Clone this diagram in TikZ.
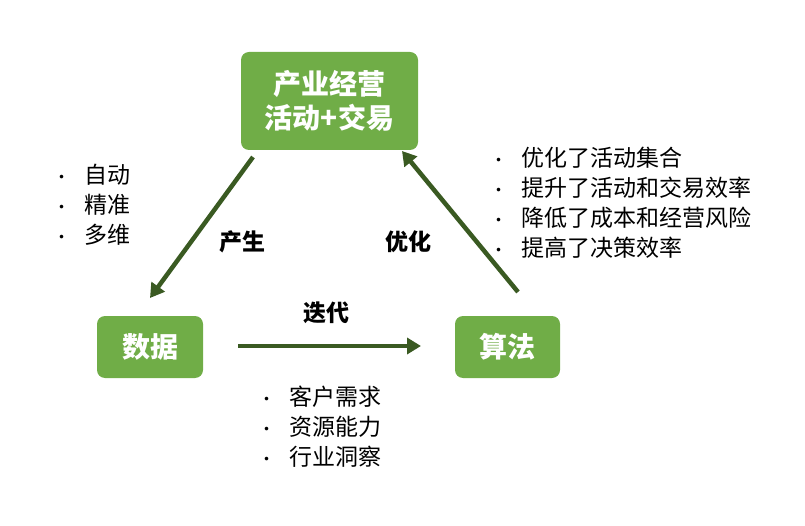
\documentclass[tikz,border=0pt]{standalone}
\usepackage{fontspec}
\setmainfont{Noto Sans CJK SC}
\usetikzlibrary{arrows.meta}
\definecolor{boxg}{HTML}{70AD47}
\definecolor{arrg}{HTML}{3A5A22}
\tikzset{
  gbox/.style={fill=boxg,rounded corners=8pt,text=white,font=\bfseries\fontsize{28}{34}\selectfont,align=center,inner sep=0pt},
  garrow/.style={draw=arrg,line width=4.5pt,-{Triangle[length=14pt,width=16pt]}},
  lbl/.style={font=\bfseries\fontsize{23}{26}\selectfont,text=black},
  blist/.style={font=\fontsize{23}{30}\selectfont,align=left,anchor=west,inner sep=0pt}
}
\newcommand{\bul}{{\fontsize{17}{20}\selectfont•}\hspace{14pt}}
\begin{document}
\begin{tikzpicture}[x=1pt,y=-1pt]
\useasboundingbox (0,0) rectangle (805,526);
\node[gbox,minimum width=177pt,minimum height=98pt] (top) at (329.5,101) {产业经营\\活动+交易};
\node[gbox,minimum width=106pt,minimum height=62pt] (data) at (150,347) {数据};
\node[gbox,minimum width=105pt,minimum height=62pt] (algo) at (507.5,347) {算法};
\coordinate (a1s) at (253,157); \coordinate (a1e) at (150,298);
\coordinate (a2s) at (518,292); \coordinate (a2e) at (402,151);
\coordinate (a3s) at (238,346); \coordinate (a3e) at (421,346);
\draw[garrow] (a1s) -- (a1e);
\draw[garrow] (a2s) -- (a2e);
\draw[garrow] (a3s) -- (a3e);
\node[lbl] (l1) at (242,242) {产生};
\node[lbl] (l2) at (408,242) {优化};
\node[lbl] (l3) at (326,313) {迭代};
\node[blist] (b1) at (53,205) {\bul 自动\\\bul 精准\\\bul 多维};
\node[blist] (b2) at (490,203) {\bul 优化了活动集合\\\bul 提升了活动和交易效率\\\bul 降低了成本和经营风险\\\bul 提高了决策效率};
\node[blist] (b3) at (258,427) {\bul 客户需求\\\bul 资源能力\\\bul 行业洞察};
\end{tikzpicture}
\end{document}
